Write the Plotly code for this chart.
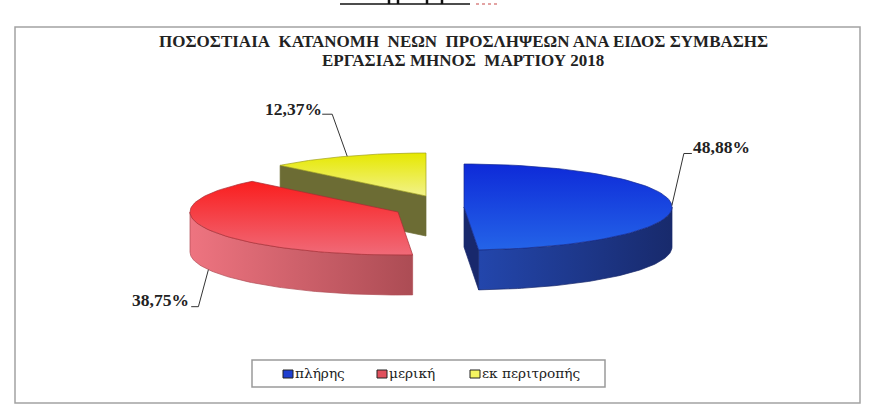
import numpy as np
import plotly.graph_objects as go

# data
labels = ["πλήρης", "μερική", "εκ περιτροπής"]
values = [48.88, 38.75, 12.37]
title_lines = ["ΠΟΣΟΣΤΙΑΙΑ\u00a0 ΚΑΤΑΝΟΜΗ\u00a0 ΝΕΩΝ\u00a0 ΠΡΟΣΛΗΨΕΩΝ ΑΝΑ ΕΙΔΟΣ ΣΥΜΒΑΣΗΣ",
               "ΕΡΓΑΣΙΑΣ ΜΗΝΟΣ\u00a0 ΜΑΡΤΙΟΥ 2018"]

# look of the pie, in page pixels
centers = [(464, 207), (398, 212), (426, 196)]
RX, RY, DEPTH = 208, 43, 40
# y axis is flipped so the gradient stops read bottom to top
top_colors = [("#2464e8", "#0e2ad8"), ("#f06a78", "#fa1e1e"), ("#f2f28a", "#e6e800")]
wall_colors = [("#2346ac", "#182a6c"), ("#ee7480", "#ac4c54"), ("#6c6c34", "#6c6c34")]
inner_colors = ["#18286c", "#b04c54", "#6c6c34"]
edge_colors = ["#142a90", "#a82c34", "#a0a020"]
swatches = ["#1f3fd0", "#e0505c", "#f4f460"]


def rim(c, ang, dy=0):
    a = np.radians(ang)
    return c[0] + RX * np.sin(a), c[1] - RY * np.cos(a) + dy


def arc(c, a0, a1, dy=0):
    ang = np.linspace(a0, a1, 80)
    return rim(c, ang, dy)


def poly(fig, x, y, colors, edge, kind="vertical"):
    fig.add_trace(go.Scatter(
        x=list(x), y=list(y), mode="lines", fill="toself",
        line=dict(color=edge, width=0.7),
        fillgradient=dict(type=kind, colorscale=[[0, colors[0]], [1, colors[1]]]),
        hoverinfo="skip", showlegend=False))


fig = go.Figure()

edges = np.concatenate([[0], np.cumsum(values) * 3.6])
order = [2, 1, 0]
for i in order:
    c = centers[i]
    a0, a1 = edges[i], edges[i + 1]
    # cut faces that look at the viewer
    if i == 0:
        ex, ey = rim(c, a1)
        poly(fig, [c[0], ex, ex, c[0], c[0]], [c[1], ey, ey + DEPTH, c[1] + DEPTH, c[1]],
             (inner_colors[i], inner_colors[i]), inner_colors[i])
    if i == 2:
        ex, ey = rim(c, a0)
        poly(fig, [ex, c[0], c[0], ex, ex], [ey, c[1], c[1] + DEPTH, ey + DEPTH, ey],
             (inner_colors[i], inner_colors[i]), inner_colors[i])
    # outer wall, only the front half of the ellipse shows
    w0, w1 = max(a0, 90), min(a1, 270)
    if w1 > w0:
        tx, ty = arc(c, w0, w1)
        bx, by = arc(c, w1, w0, DEPTH)
        poly(fig, np.r_[tx, bx, tx[0]], np.r_[ty, by, ty[0]], wall_colors[i], inner_colors[i], "horizontal")
    # top face
    ax, ay = arc(c, a0, a1)
    poly(fig, np.r_[c[0], ax, c[0]], np.r_[c[1], ay, c[1]], top_colors[i], edge_colors[i])

shapes = [
    dict(type="rect", x0=15, y0=27, x1=860, y1=403, line=dict(color="#a2a2a2", width=1.5)),
    dict(type="rect", x0=252, y0=360, x1=605, y1=387, line=dict(color="#9a9a9a", width=1.5)),
    # cut off text of the page above the chart
    dict(type="line", x0=340, y0=4, x1=470, y1=4, line=dict(color="#111111", width=1.5)),
    dict(type="line", x0=389, y0=0, x1=389, y1=4, line=dict(color="#111111", width=2.5)),
    dict(type="line", x0=398, y0=0, x1=398, y1=4, line=dict(color="#111111", width=2.5)),
    dict(type="line", x0=427, y0=0, x1=427, y1=4, line=dict(color="#111111", width=2.5)),
    dict(type="line", x0=442, y0=0, x1=442, y1=4, line=dict(color="#111111", width=2.5)),
    dict(type="line", x0=476, y0=4, x1=500, y1=4, line=dict(color="#c84848", width=1.2, dash="dot")),
]

annotations = []
for n, line in enumerate(title_lines):
    annotations.append(dict(x=463, y=41 + n * 19.5, text="<b>" + line + "</b>", showarrow=False,
                            font=dict(family="Liberation Serif", size=17, color="#222222")))

# leader lines start at the middle of each slice
mids = (edges[:-1] + edges[1:]) / 2
bends = [(12, -52, 20), (-10, 37, -18), (-15, -42, -25)]
label_pos = [(721, 147), (160, 300), (293, 109)]
for i in range(3):
    sx, sy = rim(centers[i], mids[i], DEPTH if i == 1 else 0)
    bx, by = sx + bends[i][0], sy + bends[i][1]
    fig.add_trace(go.Scatter(x=[sx, bx, bx + bends[i][2] * 0.4], y=[sy, by, by], mode="lines",
                             line=dict(color="#333333", width=1), hoverinfo="skip", showlegend=False))
    annotations.append(dict(x=label_pos[i][0], y=label_pos[i][1],
                            text=f"<b>{values[i]:.2f}%</b>".replace(".", ","),
                            showarrow=False,
                            font=dict(family="Liberation Serif", size=17.5, color="#222222")))

# legend drawn by hand, box keeps the original spacing
swatch_x = [283, 377, 470]
for i in range(3):
    shapes.append(dict(type="rect", x0=swatch_x[i], y0=370, x1=swatch_x[i] + 10, y1=378,
                       fillcolor=swatches[i], line=dict(color="#222222", width=1)))
    annotations.append(dict(x=swatch_x[i] + 10, y=373, text=labels[i], showarrow=False, xanchor="left",
                            font=dict(family="DejaVu Serif", size=13.7, color="#222222")))

fig.update_layout(
    width=880, height=411, margin=dict(l=0, r=0, t=0, b=0),
    paper_bgcolor="white", plot_bgcolor="white",
    xaxis=dict(range=[0, 880], visible=False, fixedrange=True),
    yaxis=dict(range=[411, 0], visible=False, fixedrange=True),
    shapes=shapes, annotations=annotations, showlegend=False)

# the browser's default body margin would push everything 8px in
fig.write_html("out.html", config=dict(displayModeBar=False),
               post_script="document.body.style.margin='0';")
